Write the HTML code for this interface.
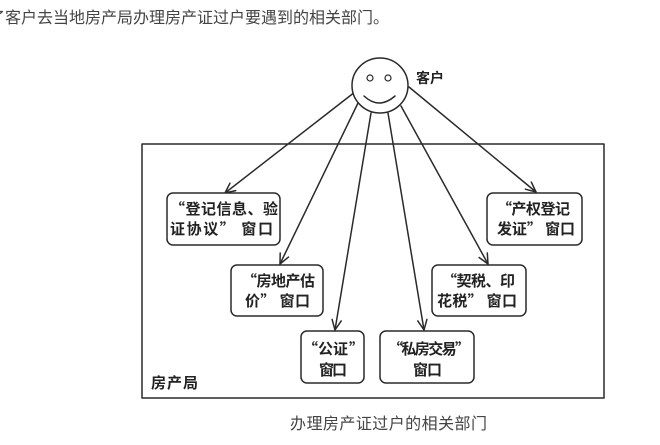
<!DOCTYPE html>
<html>
<head>
<meta charset="utf-8">
<style>
html,body{margin:0;padding:0;background:#fff;}
body{width:660px;height:445px;overflow:hidden;position:relative;}
svg{position:absolute;left:0;top:0;}
.t{font-family:"Liberation Sans","Noto Sans CJK SC",sans-serif;font-size:16px;fill:#444;}
.b{font-family:"Noto Sans CJK SC","WenQuanYi Zen Hei",sans-serif;font-size:15px;font-weight:bold;fill:#222;}
</style>
</head>
<body>
<svg width="660" height="445" viewBox="0 0 660 445" xmlns="http://www.w3.org/2000/svg">
  <!-- top text -->
  <text class="t" x="-11" y="23">了客户去当地房产局办理房产证过户要遇到的相关部门。</text>

  <g stroke="#2a2a2a" stroke-width="1.5" fill="none" stroke-linecap="round" stroke-linejoin="round">
    <!-- big rect -->
    <rect x="142" y="144" width="462" height="254"/>
    <!-- face -->
    <ellipse cx="380" cy="85.5" rx="28" ry="27.5" fill="#fff"/>
    <circle cx="370" cy="78" r="3" stroke-width="1.2"/>
    <circle cx="388" cy="78" r="3" stroke-width="1.2"/>
    <path d="M364 96 Q379 110 395 96"/>

    <!-- lines -->
    <line x1="353" y1="93.5" x2="225" y2="193"/>
    <line x1="358" y1="103" x2="280" y2="264"/>
    <line x1="371" y1="113" x2="335" y2="330"/>
    <line x1="388" y1="113" x2="424" y2="330"/>
    <line x1="401" y1="106" x2="488" y2="264"/>
    <line x1="409" y1="87" x2="536" y2="192"/>

    <!-- arrowheads -->
    <polyline points="235.7,190.6 225,193 230,183.2"/>
    <polyline points="288.5,257.1 280,264 280.2,253"/>
    <polyline points="341.2,320.9 335,330 332.1,319.4"/>
    <polyline points="417.8,320.9 424,330 426.9,319.4"/>
    <polyline points="487.3,253 488,264 479.1,257.5"/>
    <polyline points="531.3,182.1 536,192 525.4,189.2"/>

    <!-- boxes -->
    <rect x="167" y="193" width="113" height="52" rx="6" fill="#fff"/>
    <rect x="487" y="193" width="95" height="52" rx="6" fill="#fff"/>
    <rect x="231" y="265" width="92" height="51" rx="6" fill="#fff"/>
    <rect x="432" y="265" width="94" height="51" rx="6" fill="#fff"/>
    <rect x="301" y="331" width="63" height="52" rx="6" fill="#fff"/>
    <rect x="380" y="331" width="94" height="52" rx="6" fill="#fff"/>
  </g>

  <!-- labels -->
  <text class="b" x="416" y="83" style="font-size:14px">客户</text>

  <text class="b" x="170" y="214" textLength="108" lengthAdjust="spacing">“登记信息、验</text>
  <text class="b" x="170" y="234" textLength="103" lengthAdjust="spacing">证协议” 窗口</text>

  <text class="b" x="497" y="214" textLength="73" lengthAdjust="spacing">“产权登记</text>
  <text class="b" x="497" y="234" textLength="78" lengthAdjust="spacing">发证” 窗口</text>

  <text class="b" x="242" y="286" textLength="73" lengthAdjust="spacing">“房地产估</text>
  <text class="b" x="245" y="306" textLength="65" lengthAdjust="spacing">价” 窗口</text>

  <text class="b" x="442" y="286" textLength="73" lengthAdjust="spacing">“契税、印</text>
  <text class="b" x="437" y="306" textLength="80" lengthAdjust="spacing">花税” 窗口</text>

  <text class="b" x="303" y="354">“</text>
  <text class="b" x="318" y="354" textLength="30" lengthAdjust="spacing">公证</text>
  <text class="b" x="349" y="354">”</text>
  <text class="b" x="319" y="375" textLength="28" lengthAdjust="spacing">窗口</text>

  <text class="b" x="388" y="354" textLength="82" lengthAdjust="spacing">“私房交易”</text>
  <text class="b" x="413" y="375" textLength="29" lengthAdjust="spacing">窗口</text>

  <text class="b" x="151" y="388" textLength="47" lengthAdjust="spacing">房产局</text>

  <text class="t" x="290" y="429" textLength="197" lengthAdjust="spacing">办理房产证过户的相关部门</text>
</svg>
</body>
</html>
